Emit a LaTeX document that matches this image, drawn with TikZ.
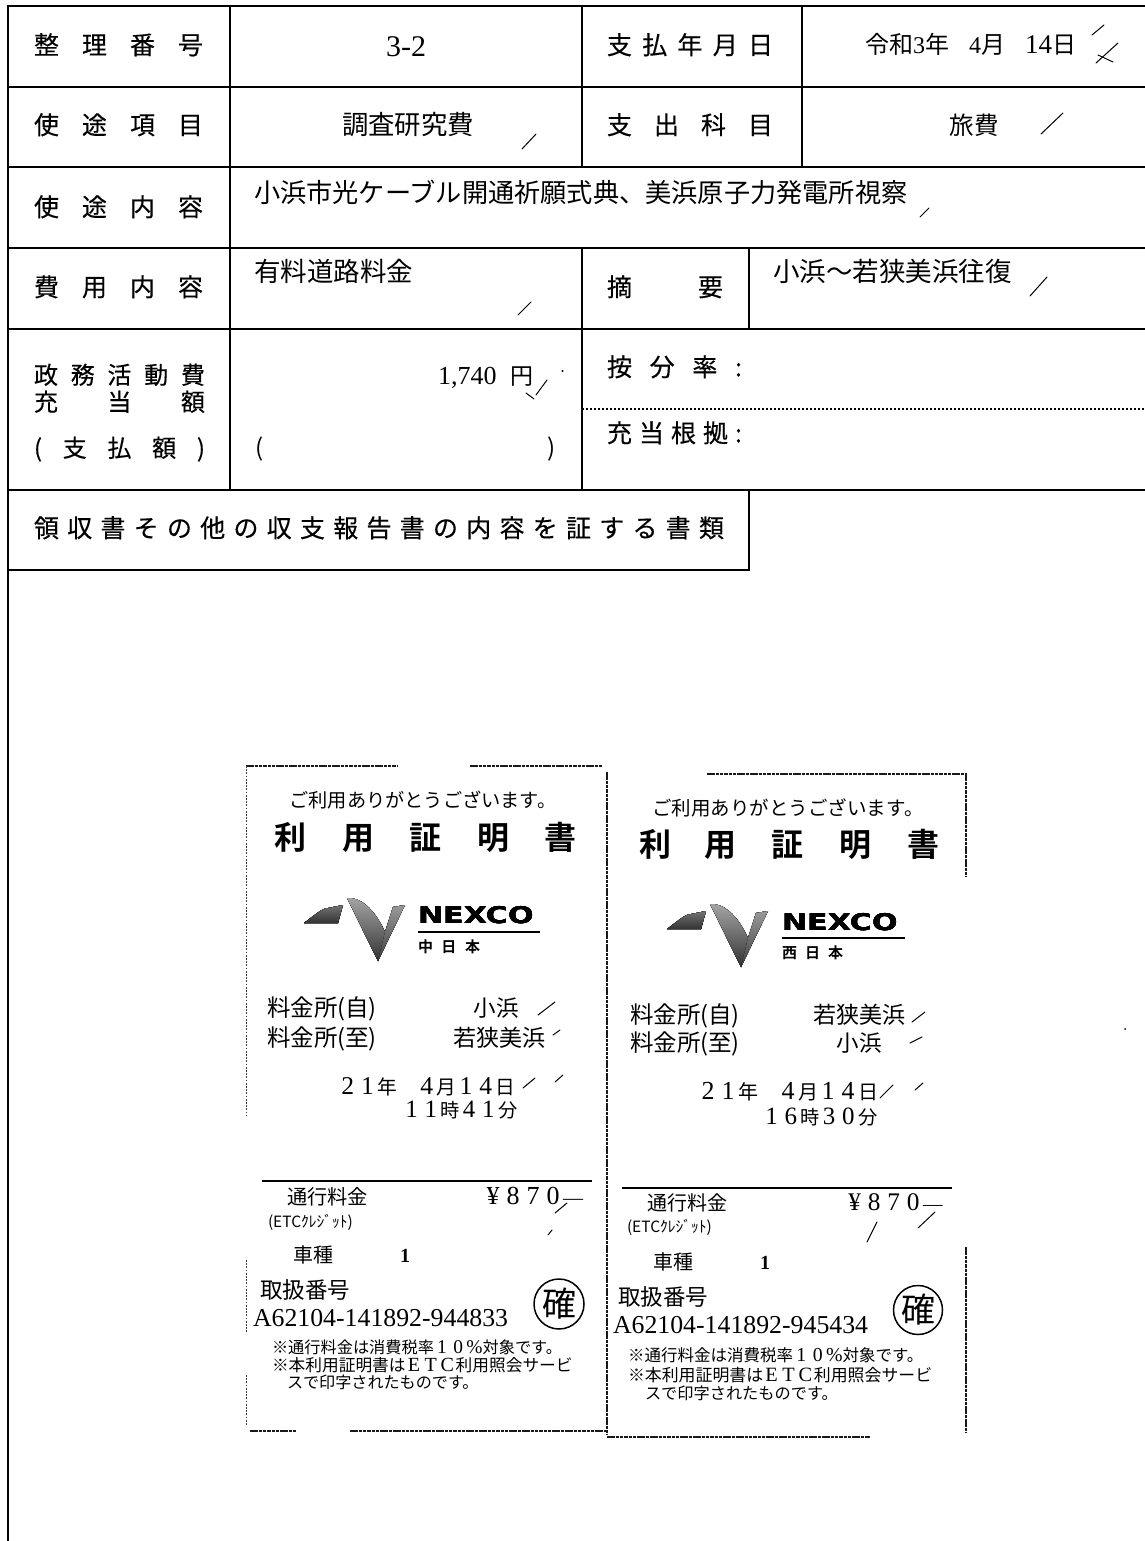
\documentclass[tikz,border=0pt]{standalone}
\usepackage{fontspec}
\usepackage{graphicx}
\setmainfont{Noto Sans CJK JP}[BoldFont={Noto Sans CJK JP Bold}]
\newfontfamily\lat{Liberation Serif}
\newfontfamily\logofont{DejaVu Sans}
\newfontfamily\lb{Noto Sans CJK JP}[FakeBold=0.35]
\newcommand{\tx}[6][base]{%
  \pgfmathsetmacro{\tyy}{#4+0.37*#5}%
  \node[inner sep=0pt,outer sep=0pt,anchor=#1,text=black] (#2) at (#3,\tyy) {\fontsize{#5}{#5}\selectfont #6};}
\newcommand{\fd}[1]{\makebox[1em]{\scalebox{1.3}{\lat #1}}}
\newcommand{\fn}[1]{\makebox[1em]{\scalebox{1.2}{\lat #1}}}
\tikzset{
  tbl/.style={line width=2.1pt,line cap=rect,black},
  dots/.style={line width=2pt,black,dash pattern=on 2pt off 2pt},
  tck/.style={line width=1pt,line cap=round,black},
  rcpt/.style={line width=1.1pt,black!90,dash pattern=on 3.5pt off .8pt},
  rcptf/.style={line width=.9pt,black!75,dash pattern=on 1.8pt off 1.4pt},
  rule/.style={line width=1.8pt,black}
}
\newcommand{\logomark}[2]{%
  \begin{scope}[shift={(#1,#2)}]
    \fill[bottom color=black!80,top color=black!55] (304,923) .. controls (315,915) and (322,908) .. (328,908) -- (343,905) -- (338,923) -- cycle;
    \fill[top color=black!35,bottom color=black!80] (347,898) .. controls (360,897) and (374,908) .. (385,932) -- (378,961) -- cycle;
    \fill[top color=black!40,bottom color=black!75] (405,905) -- (393,907) -- (385,932) -- (378,961) -- cycle;
  \end{scope}}
\begin{document}
\begin{tikzpicture}[x=1pt,y=-1pt]
\useasboundingbox (0,0) rectangle (1145,1541);
\fill[white] (0,0) rectangle (1145,1541);
% table rules
\draw[tbl] (8,1541) -- (8,6) -- (1145,6);
\foreach \yy in {87,167,248,329} \draw[tbl] (8,\yy) -- (1145,\yy);
\draw[tbl] (8,490) -- (1145,490);
\draw[tbl] (8,570) -- (749,570) -- (749,490);
\draw[tbl] (230,6) -- (230,490);
\draw[tbl] (582,6) -- (582,167);
\draw[tbl] (582,248) -- (582,490);
\draw[tbl] (802,6) -- (802,167);
\draw[tbl] (749,248) -- (749,329);
\draw[dots] (582,409) -- (1145,409);
% labels
\tx[base west]{a1}{34}{45}{25}{\lb\makebox[169pt][s]{整\hfill 理\hfill 番\hfill 号}}
\tx[base west]{a2}{34}{125}{25}{\lb\makebox[169pt][s]{使\hfill 途\hfill 項\hfill 目}}
\tx[base west]{a3}{34}{207}{25}{\lb\makebox[169pt][s]{使\hfill 途\hfill 内\hfill 容}}
\tx[base west]{a4}{34}{287}{25}{\lb\makebox[169pt][s]{費\hfill 用\hfill 内\hfill 容}}
\tx[base west]{a5}{34}{375}{24}{\lb\makebox[171pt][s]{政\hfill 務\hfill 活\hfill 動\hfill 費}}
\tx[base west]{a6}{34}{402}{24}{\lb\makebox[171pt][s]{充\hfill 当\hfill 額}}
\tx[base west]{a7}{34}{448}{24}{\lb\makebox[171pt][s]{(\hfill 支\hfill 払\hfill 額\hfill )}}
\tx[base west]{a8}{34}{528}{25}{\lb\makebox[690pt][s]{領\hfill 収\hfill 書\hfill そ\hfill の\hfill 他\hfill の\hfill 収\hfill 支\hfill 報\hfill 告\hfill 書\hfill の\hfill 内\hfill 容\hfill を\hfill 証\hfill す\hfill る\hfill 書\hfill 類}}
\tx[base west]{b1}{607}{45}{25}{\lb\makebox[166pt][s]{支\hfill 払\hfill 年\hfill 月\hfill 日}}
\tx[base west]{b2}{607}{125}{25}{\lb\makebox[166pt][s]{支\hfill 出\hfill 科\hfill 目}}
\tx[base west]{b3}{607}{287}{25}{\lb\makebox[116pt][s]{摘\hfill 要}}
\tx[base west]{b4}{607}{367}{25}{\lb\makebox[135pt][s]{按\hfill 分\hfill 率\hfill :}}
\tx[base west]{b5}{607}{433}{25}{\lb\makebox[135pt][s]{充\hfill 当\hfill 根\hfill 拠\hfill :}}
% values
\tx{v1}{406}{45}{30}{\lat 3-2}
\tx{v2}{408}{125}{26.4}{調査研究費}
\tx[base west]{v3}{254}{193}{26.2}{小浜市光ケーブル開通祈願式典、美浜原子力発電所視察}
\tx[base west]{v4}{254}{272}{26.5}{有料道路料金}
\tx[base west]{v5}{438}{375}{26}{{\lat 1,740}\hspace{14pt}\fontsize{23}{23}\selectfont 円}
\tx[base west]{v6}{255}{448}{24}{(}
\tx[base east]{v7}{556}{448}{24}{)}
\tx[base west]{v8}{865}{45}{24}{令和{\lat 3}年\hspace{20pt}{\lat 4}月\hspace{20pt}{\lat\fontsize{27}{27}\selectfont 14}日}
\tx{v9}{974}{125}{24.5}{旅費}
\tx[base west]{v10}{773}{272}{26.5}{小浜〜若狭美浜往復}
% check ticks
\foreach \p/\q in {{522,149}/{536,134},{1092,35}/{1104,25},{1096,63}/{1118,43},{1098,55}/{1113,62},{1041,134}/{1063,113},{920,217}/{929,208},{1030,296}/{1047,277},{518,315}/{531,302},{536,395}/{547,380},{526,393}/{534,399},{538,1015}/{555,1002},{553,1035}/{560,1030},{523,1088}/{535,1078},{555,1082}/{563,1075},{555,1213}/{567,1203},{548,1235}/{552,1230},{912,1022}/{925,1012},{910,1043}/{922,1037},{880,1098}/{893,1085},{915,1090}/{923,1083},{867,1242}/{877,1222},{918,1228}/{935,1212}}
  \draw[tck] (\p) -- (\q);
\fill (562.5,371) circle (1.2pt);
\fill (1125,1029) circle (1pt);
% receipt borders
\draw[rcpt] (246,766) -- (397,766);
\draw[rcpt] (470,766) -- (602,766);
\draw[rcptf] (246,766) -- (246,1115);
\draw[rcptf] (246,1260) -- (246,1332);
\draw[rcptf] (246,1375) -- (246,1425);
\draw[rcpt] (250,1431) -- (296,1431);
\draw[rcpt] (350,1431) -- (606,1431);
\draw[rcpt,line width=1.5pt] (607,772) -- (607,1435);
\draw[rcpt] (707,774) -- (966,774) -- (966,877);
\draw[rcpt] (966,1247) -- (966,1433);
\draw[rcpt] (607,1437) -- (870,1437);
% left receipt
\tx{l1}{423}{800}{19.2}{ご利用ありがとうございます。}
\foreach \c/\xx/\nn in {利/290/la,用/358/lb,証/425/lc,明/493/ld,書/560/le}
  \tx{\nn}{\xx}{838}{32}{\bfseries\c}
\logomark{0}{0}
\tx[base west]{l2}{418}{915}{23}{\logofont\bfseries\scalebox{1.31}[1]{NEXCO}}
\draw[rule,line width=1.2pt] (418,932) -- (540,932);
\tx[base west]{l3}{418}{947}{15}{\makebox[62pt][s]{\bfseries 中\hfill 日\hfill 本}}
\tx[base west]{l4}{267}{1008}{23.5}{料金所(自)}
\tx[base west]{l5}{267}{1038}{23.5}{料金所(至)}
\tx{l6}{496}{1008}{22.5}{小浜}
\tx[base east]{l7}{545}{1038}{23}{若狭美浜}
\tx[base west]{l8}{338}{1087}{19.7}{\fd{2}\fd{1}年\makebox[1em]{ }\fd{4}月\fd{1}\fd{4}日}
\tx[base west]{l9}{402}{1110}{19.2}{\fd{1}\fd{1}時\fd{4}\fd{1}分}
\draw[rule] (262,1181) -- (592,1181);
\tx[base west]{l10}{287}{1197}{20.2}{通行料金}
\tx[base west]{l11}{483}{1197}{20}{\fd{¥}\fd{8}\fd{7}\fd{0}\makebox[1em]{\lat —}}
\tx[base west]{l12}{268}{1222}{15.5}{\makebox[107pt][s]{(ETCｸﾚｼﾞｯﾄ)}}
\tx[base west]{l13}{293}{1255}{20}{車種}
\tx{l14}{405}{1255}{20}{\lat\bfseries 1}
\tx[base west]{l15}{260}{1290}{22.5}{取扱番号}
\tx[base west]{l16}{253}{1317}{25.8}{\lat A62104-141892-944833}
\node[circle,draw=black,line width=1.5pt,minimum size=50pt,inner sep=0pt] (l17) at (559,1304) {\fontsize{34}{34}\selectfont 確};
\tx[base west]{l18}{272}{1347}{16.2}{※通行料金は消費税率\fn{1}\fn{0}\fn{\%}対象です。}
\tx[base west]{l19}{272}{1365}{16.7}{※本利用証明書は\fn{E}\fn{T}\fn{C}利用照会サービ}
\tx[base west]{l20}{287}{1383}{16.1}{スで印字されたものです。}
% right receipt
\tx{r1}{788}{808}{19.5}{ご利用ありがとうございます。}
\foreach \c/\xx/\nn in {利/655/ra,用/720/rb,証/787/rc,明/855/rd,書/923/re}
  \tx{\nn}{\xx}{845}{32}{\bfseries\c}
\logomark{363}{6}
\tx[base west]{r2}{782}{922}{23}{\logofont\bfseries\scalebox{1.31}[1]{NEXCO}}
\draw[rule,line width=1.2pt] (782,938) -- (905,938);
\tx[base west]{r3}{782}{953}{15}{\makebox[61pt][s]{\bfseries 西\hfill 日\hfill 本}}
\tx[base west]{r4}{630}{1015}{23.5}{料金所(自)}
\tx[base west]{r5}{630}{1043}{23.5}{料金所(至)}
\tx[base east]{r6}{905}{1015}{23}{若狭美浜}
\tx{r7}{859}{1043}{22.5}{小浜}
\tx[base west]{r8}{698}{1092}{20}{\fd{2}\fd{1}年\makebox[1em]{ }\fd{4}月\fd{1}\fd{4}日}
\tx[base west]{r9}{762}{1117}{19.2}{\fd{1}\fd{6}時\fd{3}\fd{0}分}
\draw[rule] (622,1188) -- (952,1188);
\tx[base west]{r10}{647}{1203}{20}{通行料金}
\tx[base west]{r11}{845}{1203}{19.5}{\fd{¥}\fd{8}\fd{7}\fd{0}\makebox[1em]{\lat —}}
\tx[base west]{r12}{627}{1227}{15.5}{\makebox[106pt][s]{(ETCｸﾚｼﾞｯﾄ)}}
\tx[base west]{r13}{653}{1262}{20}{車種}
\tx{r14}{765}{1262}{20}{\lat\bfseries 1}
\tx[base west]{r15}{618}{1297}{22.5}{取扱番号}
\tx[base west]{r16}{613}{1324}{25.8}{\lat A62104-141892-945434}
\node[circle,draw=black,line width=1.5pt,minimum size=49pt,inner sep=0pt] (r17) at (918,1310) {\fontsize{34}{34}\selectfont 確};
\tx[base west]{r18}{628}{1355}{16.5}{※通行料金は消費税率\fn{1}\fn{0}\fn{\%}対象です。}
\tx[base west]{r19}{628}{1375}{16.9}{※本利用証明書は\fn{E}\fn{T}\fn{C}利用照会サービ}
\tx[base west]{r20}{645}{1393}{16.2}{スで印字されたものです。}
\end{tikzpicture}
\end{document}
